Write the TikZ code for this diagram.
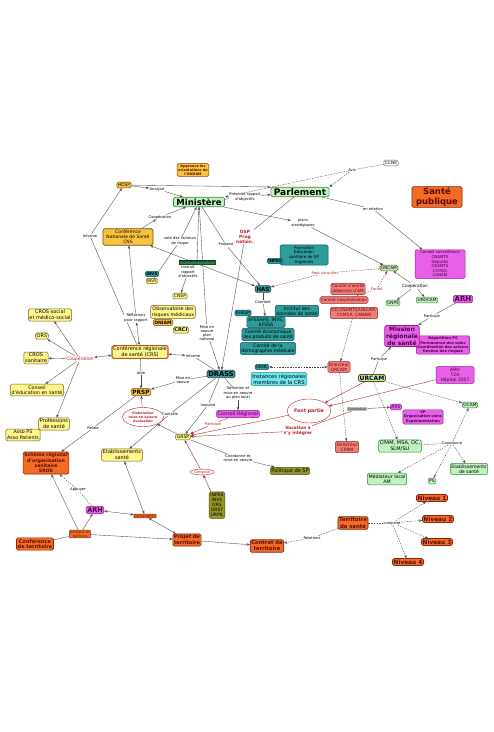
\documentclass[tikz,border=0pt]{standalone}
\usepackage{fontspec}
\setmainfont{DejaVu Sans}
\usetikzlibrary{arrows.meta,shapes.geometric,backgrounds}
\newcommand\fz[1]{\fontsize{#1}{\fpeval{#1*1.15}}\selectfont}
\definecolor{cYel}{RGB}{255,246,140}
\definecolor{cYelD}{RGB}{110,100,30}
\definecolor{cGold}{RGB}{249,196,60}
\definecolor{cGoldD}{RGB}{120,70,10}
\definecolor{cGrn}{RGB}{190,242,190}
\definecolor{cGrnD}{RGB}{60,140,60}
\definecolor{cOrg}{RGB}{242,108,36}
\definecolor{cOrgD}{RGB}{130,40,15}
\definecolor{cOrgT}{RGB}{90,10,10}
\definecolor{cMag}{RGB}{232,96,232}
\definecolor{cMagD}{RGB}{140,30,140}
\definecolor{cMagT}{RGB}{70,0,70}
\definecolor{cTeal}{RGB}{44,156,156}
\definecolor{cTealD}{RGB}{20,80,80}
\definecolor{cSal}{RGB}{242,125,120}
\definecolor{cSalD}{RGB}{150,40,40}
\definecolor{cSalT}{RGB}{100,10,10}
\definecolor{cOlv}{RGB}{150,150,40}
\definecolor{cOlvD}{RGB}{80,80,20}
\definecolor{cCyan}{RGB}{110,232,240}
\definecolor{cCyanD}{RGB}{30,130,140}
\definecolor{cRed}{RGB}{190,30,30}
\definecolor{cDGrn}{RGB}{40,130,70}
\tikzset{
 fs/.style={font=\fz{#1}},
 fsb/.style={font=\fz{#1}\bfseries},
 bx/.style={draw, rounded corners=1.5pt, align=center, inner sep=1.2pt, line width=0.5pt},
 yel/.style={bx, fill=cYel, draw=cYelD},
 gold/.style={bx, fill=cGold, draw=cGoldD},
 wht/.style={bx, fill=white, draw=black!60},
 grn/.style={bx, fill=cGrn, draw=cGrnD},
 org/.style={bx, fill=cOrg, draw=cOrgD, text=cOrgT, line width=0.7pt},
 orgs/.style={bx, fill=cOrg, draw=cOrgD, text=cOrgT, inner sep=0.6pt, rounded corners=0.5pt},
 mag/.style={bx, fill=cMag, draw=cMagD, text=cMagT},
 teal/.style={bx, fill=cTeal, draw=cTealD, text=black},
 sal/.style={bx, fill=cSal, draw=cSalD, text=cSalT},
 olv/.style={bx, fill=cOlv, draw=cOlvD, text=black},
 cya/.style={bx, fill=cCyan, draw=cCyanD, text=black},
 dgr/.style={bx, fill=cDGrn, draw=cDGrn!60!black, text=black, rounded corners=0pt, inner sep=0.6pt},
 crsbox/.style={bx, fill=cYel, draw=cOrg!80!black, line width=1.1pt},
 ell/.style={ellipse, draw=cRed, fill=white, align=center, inner sep=0.3pt, text=cRed},
 lbl/.style={fill=white, inner sep=0.4pt, align=center, fs=3.7},
 rlbl/.style={lbl, text=cRed},
 ln/.style={draw=black!72, line width=0.35pt},
 arr/.style={ln, -{Stealth[length=3.2pt,width=2.4pt]}},
 darr/.style={ln, {Stealth[length=3.2pt,width=2.4pt]}-{Stealth[length=3.2pt,width=2.4pt]}},
 dsh/.style={dash pattern=on 1.6pt off 1.1pt},
 red/.style={draw=cRed!85!black},
}
\begin{document}
\begin{tikzpicture}[x=1pt,y=-1pt]
\useasboundingbox (0,0) rectangle (494,732);

% ---------- top ----------
\node[gold,fsb=3.4,text=cOrgT] (ondam) at (193,170) {Approuve les\\orientations de\\l'ONDAM};
\node[wht,fs=4.3] (ccne) at (391,163) {CCNE};
\node[gold,fs=4.5] (hcsp) at (124,185) {HCSP};
\node[grn,fsb=8.5,inner xsep=3,line width=0.7pt] (min) at (199,202) {Ministère};
\node[grn,fsb=9,inner xsep=3,line width=0.7pt] (parl) at (300,192) {Parlement};
\node[org,fsb=8.5,minimum width=50] (sp) at (437,197) {Santé\\publique};
\node[mag,fs=4,minimum width=50] (cnamts) at (440,264) {Conseil surveillance\\CNAMTS\\Députés\\CNAMTS\\CCMSA\\CANAM};
\node[gold,fs=4.5,minimum width=50,line width=0.7pt] (cns) at (128,237) {Conférence\\Nationale de Santé\\CNS};
\node[teal,fs=4,minimum width=48] (promo) at (304,255) {Promotion\\Education\\sanitaire de SP\\Urgences};
\node[teal,fsb=4] (inpes) at (275,261) {INPES};
\node[dgr,fs=3.4] (orgavis) at (197,262) {Organisme sous avis};
\node[teal,fsb=4] (invs1) at (152,274) {INVS};
\node[yel,fs=4] (invs2) at (152,281) {INVS};
\node[yel,fs=4.5] (cnsp) at (180,296) {CNSP};
\node[teal,fsb=5.5,line width=0.9pt,draw=black!70] (has) at (263,289) {HAS};
\node[teal,fs=4.3] (ehesp) at (243,313) {EHESP};
\node[teal,fs=4.6] (ids) at (297,311) {Institut des\\données de santé};
\node[teal,fs=4.6] (afssaps) at (266,322) {AFSSAPS, INVS,\\AFSSA};
\node[teal,fs=4.6] (ceps) at (268,334.5) {Comité économique\\des produits de santé};
\node[teal,fs=4.6] (cdm) at (268,348.5) {Comité de la\\démographie médicale};
\node[yel,fs=4.8] (obs) at (173,312) {Observatoire des\\risques médicaux};
\node[gold,fsb=4.5] (oniam) at (163,322.5) {ONIAM};
\node[yel,fsb=5] (crci) at (181,330) {CRCI};

% ---------- left ----------
\node[yel,fs=5] (crossoc) at (50,315) {CROS social\\et médico-social};
\node[yel,fs=5] (ors) at (42,336) {ORS};
\node[yel,fs=5] (crossan) at (36,358) {CROS\\sanitaire};
\node[crsbox,fs=5] (crs) at (140,352) {Conférence régionale\\de santé (CRS)};
\node[yel,fs=4.8] (conseduc) at (37,390) {Conseil\\d'éducation en santé};
\node[yel,fs=5] (profs) at (54,424) {Professions\\de santé};
\node[yel,fs=4.8] (asso) at (23,435) {Asso PS\\Asso Patients};

% ---------- right ----------
\node[grn,fs=4.2,draw=cGoldD] (uncam) at (389,268) {UNCAM};
\node[sal,fs=4.1] (calerte) at (348,289) {Comité d'alerte\\dépenses d'AM};
\node[sal,fs=4.1] (chosp) at (344,300) {Comité hospitalisation};
\node[sal,fs=4.3] (dg) at (354,313) {DG CNAMTS/UNCAM,\\CCMSA, CANAM};
\node[grn,fs=4.2] (unps) at (393,303) {UNPS};
\node[grn,fs=4.2] (unocam) at (427,300) {UNOCAM};
\node[mag,fsb=7] (arh1) at (463,299) {ARH};
\node[mag,fsb=3.6] (repart) at (443,345) {Répartition PS\\Permanence des soins\\Coordination des acteurs\\Gestion des risques};
\node[mag,fsb=6,line width=0.8pt] (mrs) at (402,336) {Mission\\régionale\\de santé};
\node[sal,fs=4.3] (dirurcam) at (339,367) {Directeur\\URCAM};
\node[grn,fsb=6,draw=cGoldD,line width=0.8pt] (urcam) at (372,378) {URCAM};
\node[mag,fs=4.5,minimum width=38] (arht2a) at (455,375) {ARH\\T2A\\Hôpital 2007};
\node[teal,fs=4] (urml) at (262,367) {URML};
\node[cya,fs=5.2] (inst) at (279,379) {Instances régionales\\membres de la CRS};
\node[teal,fsb=6.7,line width=0.9pt,draw=black!70] (drass) at (221,374) {DRASS};

% ---------- middle ----------
\node[gold,fsb=5.8] (prsp) at (141,392) {PRSP};
\node[mag,fs=4.9] (creg) at (238,414) {Conseil Régional};
\node[ell,fsb=4.8,minimum width=42,minimum height=24] (font) at (309,411) {Font partie};
\node[yel,fs=4.6] (grsp) at (183,437) {GRSP};
\node[ell,fsb=3.3,minimum width=37,minimum height=19] (elab) at (143,417) {Elaboration\\mise en oeuvre\\évaluation};
\node[yel,fs=5] (etab1) at (122,455) {Etablissements\\santé};
\node[olv,fs=5] (polsp) at (290,471) {Politique de SP};
\node[mag,fsb=3.6] (spbox) at (423,417) {SP\\Organisation soins\\Expérimentation};
\node[mag,fs=4.5] (ars) at (396,407) {ARS};
\node[grn,fs=4.3] (ocam) at (470,405) {OCAM};
\node[grn,fs=5] (cpam) at (400,446) {CPAM, MSA, OC,\\SLM/SLI};
\node[sal,fs=4.5] (dircpam) at (347,447) {Directeur\\CPAM};
\node[grn,fs=4.6] (etab2) at (469,469) {Etablissements\\de santé};
\node[grn,fs=4.5] (ps) at (432,481) {PS};
\node[grn,fs=4.8] (med) at (387,479) {Médiateur local\\AM};

% ---------- bottom ----------
\node[org,fsb=5.8] (n1) at (432,498) {Niveau 1};
\node[org,fsb=5.8] (n2) at (438,519) {Niveau 2};
\node[org,fsb=5.8] (n3) at (437,542) {Niveau 3};
\node[org,fsb=5.8] (n4) at (408,562) {Niveau 4};
\node[org,fsb=5.3] (terr) at (353,523) {Territoire\\de santé};
\node[org,fsb=5.2] (contrat) at (267,546) {Contrat de\\territoire};
\node[org,fsb=5] (projet) at (187,540) {Projet de\\territoire};
\node[olv,fs=4.5] (inpesb) at (217,505) {INPES\\INVS\\ORS\\ORST\\URML};
\node[ell,fs=3.5] (compose) at (202,472) {Composé};
\node[org,fsb=4.6] (sros) at (46,463) {Schéma régional\\d'organisation\\sanitaire\\SROS};
\node[mag,fsb=6.5] (arh2) at (95,510) {ARH};
\node[orgs,fs=3.3] (concert) at (145,516) {Concertation};
\node[orgs,fs=3.3] (politerr) at (80,534) {politique de\\territoire};
\node[org,fsb=5] (confterr) at (35,544) {Conférence\\de territoire};

% ---------- labels ----------
\node[lbl] (avis) at (352,170) {Avis};
\node[lbl] (analyse) at (157,189) {Analyse};
\node[lbl] (presente) at (245,197) {Présente rapport\\d'objectifs};
\node[lbl] (enrel) at (373,209) {en relation};
\node[lbl] (plans) at (303,223) {plans\\stratégiques};
\node[rlbl,fsb=4.4] (osp) at (245,237) {OSP\\Prog\\nation.};
\node[lbl] (propose) at (226,245) {Propose};
\node[lbl] (coop1) at (160,217) {Coopération};
\node[lbl] (informe1) at (90,236) {Informe};
\node[lbl] (vote) at (180,241) {vote des facteurs\\de risque};
\node[lbl] (instruit) at (188,272) {Instruit\\rapport\\d'objectifs};
\node[rlbl] (peutc) at (325,273) {Peut consulter};
\node[lbl] (contient) at (263,302) {Contient};
\node[lbl] (miseplan) at (207,333) {Mise en\\oeuvre\\plan\\national};
\node[lbl] (reflex) at (136,318) {Réflexions\\pour rapport};
\node[rlbl,fs=4.5] (coop2) at (80,359) {Coopération};
\node[lbl] (informe2) at (193,356) {Informe};
\node[rlbl] (forfait) at (377,289) {Forfait};
\node[lbl,fs=4.2] (coop3) at (415,286) {Coopération};
\node[lbl] (particip1) at (432,316) {Participe};
\node[lbl] (particip2) at (379,359) {Participe};
\node[lbl] (aide) at (141,373) {Aide};
\node[lbl] (miseoeuvre) at (183,380) {Mise en\\oeuvre};
\node[lbl] (definition) at (238,393) {Définition et\\mise en oeuvre\\au plan local};
\node[lbl] (impulse) at (208,405) {Impulse};
\node[rlbl,fsb=4.3] (vocation) at (298,431) {Vocation à\\s'y intégrer};
\node[rlbl] (participe3) at (213,424) {Participe};
\node[lbl] (controle) at (170,414) {Contrôle};
\node[lbl] (coordmo) at (238,458) {Coordonne et\\mise en oeuvre};
\node[lbl,fill=black!25,fs=3.2] (finances) at (357,409) {Convention};
\node[lbl] (coordonne) at (452,443) {Coordonne};
\node[lbl] (comprise) at (392,523) {comprise};
\node[lbl] (relations) at (312,538) {Relations};
\node[lbl] (relaie) at (93,428) {Relaie};
\node[lbl] (appuyer) at (78,490) {Appuyer};

% ---------- connectors ----------
\begin{scope}[on background layer]
\fill[white] (0,0) rectangle (494,732);
\draw[ln,dsh] (ccne) -- (avis);
\draw[arr,dsh] (avis) -- (parl.north east);
\draw[arr,dsh] (avis) -- (min.north east);
\draw[arr] (hcsp) -- (parl.north west);
\draw[arr] (hcsp) -- (analyse);
\draw[arr] (analyse) -- (min);
\draw[ln] (min) -- (presente);
\draw[arr] (presente) -- (parl);
\draw[arr] (min) -- (plans);
\draw[arr] (plans) -- (uncam);
\draw[ln] (parl) -- (enrel);
\draw[arr] (enrel) -- (cnamts);
\draw[ln] (parl) -- (osp);
\draw[arr] (osp) -- (drass);
\draw[ln] (min) -- (propose);
\draw[arr] (propose) -- (has);
\draw[arr] (cns) -- (coop1);
\draw[arr] (coop1) -- (min);
\draw[ln] (crs) -- (informe1);
\draw[arr] (informe1) -- (hcsp);
\draw[darr] (crs) -- (reflex);
\draw[arr] (reflex) -- (cns);
\draw[darr] (cns) -- (has);
\draw[ln] (invs2) -- (vote);
\draw[arr] (vote) -- (min);
\draw[arr] (orgavis) -- (min);
\draw[ln] (orgavis) -- (instruit);
\draw[arr] (instruit) -- (cnsp);
\draw[ln] (min) -- (miseplan);
\draw[arr] (miseplan) -- (drass);
\draw[ln] (drass) -- (informe2);
\draw[darr] (informe2) -- (crs);
\draw[ln] (crs) -- (aide);
\draw[arr] (aide) -- (prsp);
\draw[ln] (drass) -- (miseoeuvre);
\draw[arr] (miseoeuvre) -- (prsp);
\draw[ln] (drass) -- (definition);
\draw[arr] (definition) -- (creg);
\draw[ln] (drass) -- (impulse);
\draw[arr] (impulse) -- (grsp);
\draw[ln] (drass) -- (controle);
\draw[arr] (controle) -- (etab1);
\draw[arr] (grsp) -- (elab);
\draw[arr] (elab) -- (prsp);
\draw[darr,dsh] (urml) -- (dirurcam);
\draw[arr,red] (font) -- (grsp);
\draw[ln,red] (creg) -- (participe3);
\draw[arr,red] (participe3) -- (grsp);
\draw[arr,red] (vocation) -- (grsp);
\draw[ln,red] (vocation) -- (finances);
\draw[arr] (finances) -- (ars);
\draw[arr,red] (urcam) -- (font);
\draw[arr,red] (arht2a) -- (font);
\draw[arr,dsh] (dg) -- (dirurcam);
\draw[ln,dsh,red] (chosp) -- (forfait);
\draw[arr,dsh,red] (forfait) -- (uncam);
\draw[ln,dsh,red] (uncam) -- (peutc);
\draw[arr,dsh,red] (peutc) -- (has);
\draw[arr] (coop3) -- (uncam);
\draw[arr] (coop3) -- (unps);
\draw[arr] (coop3) -- (unocam);
\draw[ln] (arh1) -- (particip1);
\draw[arr] (particip1) -- (mrs);
\draw[ln] (urcam) -- (particip2);
\draw[arr] (particip2) -- (mrs);
\draw[arr,dsh] (urcam) -- (ocam);
\draw[arr,dsh] (dirurcam) -- (dircpam);
\draw[arr,dsh] (urcam) -- (cpam);
\draw[ln,dsh] (cpam) -- (coordonne);
\draw[arr,dsh] (coordonne) -- (etab2);
\draw[arr,dsh] (coordonne) -- (ps);
\draw[arr,dsh] (coordonne) -- (med);
\draw[arr,dsh] (coordonne) -- (ocam);
\draw[ln,dsh] (terr) -- (comprise);
\draw[arr,dsh] (comprise) -- (n1);
\draw[arr,dsh] (comprise) -- (n2);
\draw[arr,dsh] (comprise) -- (n3);
\draw[arr,dsh] (comprise) -- (n4);
\draw[ln,dsh] (terr) -- (relations);
\draw[arr,dsh] (relations) -- (contrat);
\draw[arr] (projet) -- (contrat);
\draw[ln] (grsp) -- (coordmo);
\draw[arr] (coordmo) -- (polsp);
\draw[arr,red] (inpesb) -- (compose);
\draw[arr,red] (compose) -- (grsp);
\draw[ln] (prsp) -- (relaie);
\draw[arr] (relaie) -- (sros);
\draw[ln] (confterr) -- (politerr);
\draw[arr] (politerr) -- (sros);
\draw[arr] (politerr) -- (arh2);
\draw[arr] (politerr) -- (projet);
\draw[ln,dsh] (arh2) -- (appuyer);
\draw[arr,dsh] (appuyer) -- (sros);
\draw[darr] (arh2) -- (concert);
\draw[darr] (concert) -- (projet);
\draw[darr] (etab1) -- (concert);
\draw[darr] (crs) -- (coop2);
\draw[arr] (coop2) -- (crossoc);
\draw[arr] (coop2) -- (ors);
\draw[arr] (coop2) -- (crossan);
\draw[arr] (coop2) -- (conseduc);
\draw[arr] (coop2) -- (profs);
\draw[ln] (has) -- (contient);
\draw[arr] (contient) -- (afssaps);
\end{scope}
\end{tikzpicture}
\end{document}
